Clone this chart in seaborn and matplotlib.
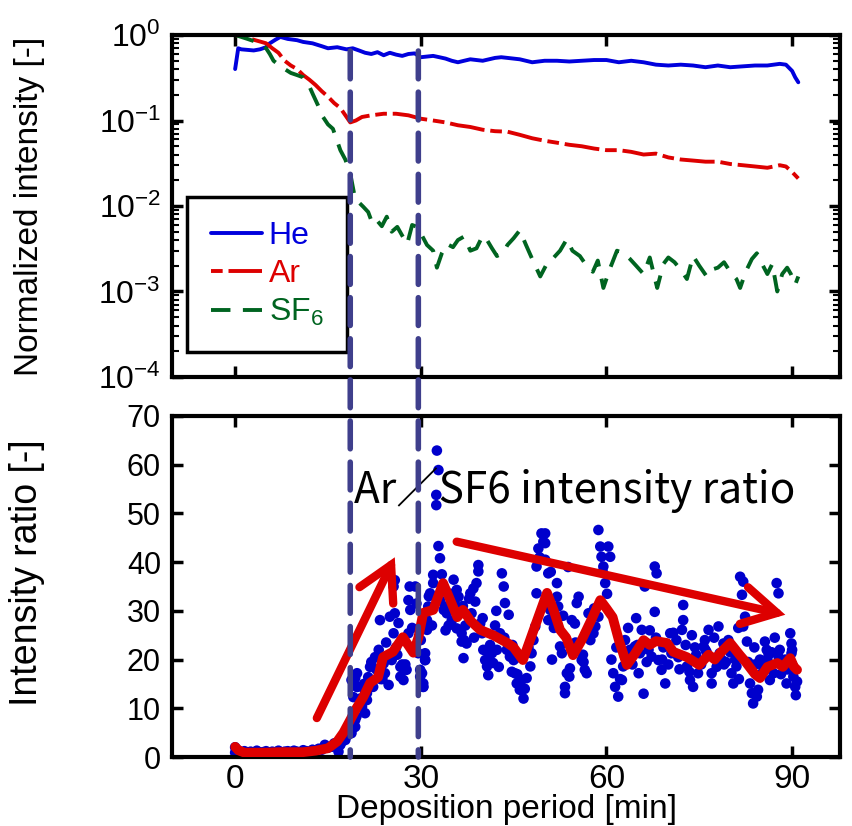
import numpy as np
import pandas as pd
import matplotlib
matplotlib.use("Agg")
import matplotlib.pyplot as plt
import seaborn as sns
from matplotlib.patches import ConnectionPatch
from matplotlib.ticker import LogLocator, NullFormatter, FixedLocator

# ---------------- data ----------------
he_x = [0, 0.5, 1, 2, 3, 4, 5, 5.6, 6.5, 7.3, 8.5, 10, 11, 12.5, 14, 15, 16.5, 18, 19, 20, 21, 22, 23, 24,
        25, 26, 27, 28, 29, 30, 31, 32, 33, 34, 35, 36, 37, 38, 40, 42, 43, 44, 46, 48, 50, 52, 54, 56, 58,
        60, 62, 64, 66, 68, 70, 72, 74, 76, 78, 80, 82, 84, 86, 88, 89, 90, 90.5, 91]
he_y = [0.40, 0.70, 0.68, 0.67, 0.66, 0.68, 0.72, 0.80, 0.88, 0.95, 0.90, 0.87, 0.83, 0.80, 0.74, 0.70,
        0.72, 0.68, 0.70, 0.66, 0.62, 0.60, 0.63, 0.58, 0.62, 0.59, 0.57, 0.60, 0.61, 0.55, 0.56, 0.57,
        0.55, 0.53, 0.50, 0.48, 0.50, 0.52, 0.50, 0.54, 0.55, 0.54, 0.52, 0.48, 0.50, 0.50, 0.49, 0.50,
        0.51, 0.51, 0.48, 0.50, 0.48, 0.45, 0.44, 0.45, 0.44, 0.42, 0.44, 0.42, 0.43, 0.44, 0.44, 0.46,
        0.45, 0.38, 0.32, 0.28]

ar_x = [0, 1, 2, 3, 4, 5, 6, 7, 8, 9, 10, 11, 12, 13, 14, 15, 16, 17, 18, 18.6, 19.5, 20.5, 22, 24, 26,
        28, 30, 32, 34, 36, 38, 40, 42, 44, 46, 48, 50, 52, 54, 56, 58, 60, 62, 64, 66, 68, 70, 72, 74,
        76, 78, 80, 82, 84, 86, 88, 89, 90, 91]
ar_y = [1.0, 0.97, 0.93, 0.88, 0.84, 0.80, 0.70, 0.62, 0.50, 0.44, 0.40, 0.34, 0.30, 0.26, 0.22, 0.19,
        0.16, 0.14, 0.11, 0.095, 0.10, 0.11, 0.115, 0.12, 0.12, 0.115, 0.105, 0.10, 0.095, 0.088, 0.084,
        0.078, 0.075, 0.074, 0.068, 0.062, 0.058, 0.055, 0.052, 0.050, 0.047, 0.045, 0.045, 0.043, 0.040,
        0.041, 0.037, 0.035, 0.034, 0.033, 0.033, 0.031, 0.030, 0.029, 0.028, 0.030, 0.029, 0.025, 0.021]

sf6_x = [0, 1, 2, 3, 4, 5, 5.6, 6.2, 7, 8, 9, 10, 11, 12, 12.6, 13.4, 14.2, 15, 15.8, 16.4, 17, 17.8,
         18.6, 19.4, 20, 20.7, 21.5, 22.2, 22.9, 23.7, 24.5, 25.3, 26.2, 27, 27.8, 28.6, 29.4, 30.2, 31,
         32, 32.6, 33.4, 34.2, 35.2, 36, 37, 38, 39, 40, 40.7, 41.5, 42.3, 43.3, 44, 45, 46, 47, 48, 49.3,
         50.5, 51.5, 52.5, 53.6, 54.5, 55.7, 56.8, 57.8, 58.6, 59.5, 60.5, 61.7, 62.8, 63.8, 64.8, 66, 67,
         68.2, 69.2, 70, 71, 72, 73, 74, 75, 76.2, 77, 78, 79, 80, 81, 81.6, 82.5, 83.5, 84.3, 85, 86,
         86.8, 87.6, 88.4, 89.2, 89.8, 90.5, 91]
sf6_y = [1.0, 0.95, 0.90, 0.85, 0.80, 0.70, 0.60, 0.50, 0.45, 0.40, 0.36, 0.34, 0.32, 0.25, 0.20, 0.15,
         0.11, 0.09, 0.08, 0.06, 0.045, 0.035, 0.024, 0.012, 0.011, 0.0098, 0.0085, 0.0062, 0.0068, 0.0058,
         0.0075, 0.0050, 0.0057, 0.0045, 0.0036, 0.0060, 0.0057, 0.0045, 0.0035, 0.0030, 0.0019, 0.0028,
         0.0036, 0.0033, 0.0040, 0.0044, 0.0030, 0.0032, 0.0045, 0.0040, 0.0032, 0.0026, 0.0028, 0.0035,
         0.0042, 0.0052, 0.0035, 0.0024, 0.0015, 0.0022, 0.0025, 0.0030, 0.0041, 0.0030, 0.0026, 0.0020,
         0.0017, 0.0023, 0.0011, 0.0018, 0.0030, 0.0028, 0.0024, 0.0020, 0.0016, 0.0025, 0.0011, 0.0021,
         0.0025, 0.0022, 0.0018, 0.0014, 0.0026, 0.0020, 0.0015, 0.0018, 0.0019, 0.0022, 0.0017, 0.0014,
         0.0011, 0.0017, 0.0024, 0.0028, 0.0022, 0.0016, 0.0021, 0.0010, 0.0016, 0.0019, 0.0016, 0.0012,
         0.0015]

ratio_x = [0, 0, 0.3, 0.6, 1, 1.5, 2, 2.5, 3, 3.5, 4, 4.5, 5, 5.5, 6, 6.5, 7, 7.5, 8, 8.5, 9, 9.5, 10,
           10.5, 11, 11.5, 12, 12.5, 13, 13.5, 14, 14.5, 15, 15.6, 16, 16.7, 17, 17.3, 17.8, 18.2, 18.8,
           19.1, 19.4, 19.4, 19.6, 19.9, 19.1, 19.7, 19.4, 20.5, 21.3, 21.0, 21.5,
           18.8, 19.7, 19.7, 20.5, 21.3, 21.0, 22.3, 23.2, 23.4, 24.0, 24.2, 24.8, 25.3, 25.6, 25.0, 25.8,
           25.6, 25.8, 26.7, 27.2, 26.7, 27.7, 28.0, 28.3, 28.0, 28.2, 29.1, 29.6, 29.9, 30.4, 30.7, 29.9,
           22.8, 23.8, 26.2, 27.5, 20.2, 22.0,
           32.6, 32.85, 32.5, 32.5, 32.85, 33.1, 32.0, 32.0, 31.5, 31.2, 31.0, 31.0, 30.7, 30.7, 30.4, 30.4,
           30.2, 33.1, 33.7, 34.2, 33.9, 35.3, 35.8, 36.1, 35.5, 35.8, 36.6, 36.6, 36.9, 37.4, 38.0, 38.5,
           38.8, 39.3, 39.3, 39.0, 38.2, 39.6, 39.9, 40.1, 40.4, 40.7, 40.9, 41.5, 41.7, 42.3, 42.8, 43.1,
           43.4, 43.6, 44.2, 43.9, 44.4, 45.0, 45.2, 45.5, 46.0, 46.6, 46.3, 47.1, 47.7, 47.9, 48.2, 48.5,
           48.7, 48.7, 49.0, 49.5, 49.8, 50.1, 50.6,
           50.1, 50.1, 50.6, 52.0, 52.0, 50.9, 50.9, 52.2, 52.5, 52.8, 54.1, 53.6, 53.3, 53.3, 54.4, 54.9,
           55.2, 55.5, 56.0, 56.5, 56.8, 57.1, 57.9, 58.2, 58.7, 58.7, 59.0, 59.2, 59.5, 59.8, 60.3, 60.6,
           61.1, 61.4, 61.9, 62.5, 62.7, 63.0, 63.0, 63.8, 64.6, 65.2, 65.4, 65.7, 66.2, 66.8, 67.3, 67.8,
           67.8, 68.1, 68.4, 68.9, 69.5, 70.3, 70.5,
           71.3, 72.2, 72.4, 72.4, 73.0, 73.5, 74.0, 74.8, 75.7, 75.9, 76.5, 77.0, 77.0, 78.1, 78.3, 78.9,
           79.7, 80.2, 80.5, 81.0, 81.6, 82.1, 81.9, 82.4, 82.1, 82.7, 83.2, 83.5, 83.7, 84.3, 84.5, 85.6,
           85.9, 86.4, 87.0, 87.5, 87.8, 87.8, 88.6, 89.1, 89.7, 89.9, 89.9, 90.2, 90.5, 90.6,
           34.5, 37.0, 41.0, 44.8, 51.2, 56.2, 60.8, 64.0, 69.0, 71.8, 74.5, 76.0, 79.0, 80.8, 84.0, 86.0,
           88.0, 90.0,
           20.8, 21.8, 22.6, 23.5, 24.4, 26.0, 26.4, 27.0, 28.6, 29.3, 30.0, 31.3, 31.8, 33.4, 34.0, 34.8,
           35.0, 36.3, 37.2, 37.8, 38.6, 40.0, 41.2, 42.0, 42.6, 43.5, 44.7, 45.8, 46.8, 47.4, 49.2, 51.0,
           51.5, 53.0, 54.0, 55.0, 56.3, 57.4, 58.0, 59.4, 60.1, 61.6, 62.2, 63.5, 64.2, 65.0, 66.5, 67.0,
           68.0, 69.2, 70.0, 70.8, 71.6, 72.8, 73.4, 74.3, 75.3, 76.2, 77.4, 78.6, 79.3, 80.0, 81.3, 82.9,
           83.9, 84.8, 85.3, 86.7, 87.2, 88.2, 88.9, 89.4, 90.0, 90.8, 36.8, 42.2, 45.6, 53.8, 64.8, 66.0,
           73.8, 77.8, 81.4, 85.0, 86.2, 89.0]
ratio_y = [2.0, 0.9, 1.5, 1.0, 0.8, 1.2, 0.9, 1.1, 0.8, 1.3, 0.9, 1.0, 1.2, 0.8, 1.1, 1.0, 1.3, 0.9, 1.1,
           1.2, 1.0, 1.3, 1.1, 0.9, 1.4, 1.2, 1.0, 1.5, 1.3, 1.7, 1.5, 2.5, 1.9, 2.1, 2.8, 1.1, 2.5, 3.2,
           3.5, 4.5, 4.9, 6.0, 6.2, 7.6, 8.3, 10.3, 12.3, 14.4, 16.2, 10.3, 11.7, 13.4, 16.4,
           15.8, 17.2, 14.4, 11.7, 13.1, 9.0, 14.4, 22.0, 28.1, 19.2, 17.2, 14.8, 19.9, 25.4, 28.8, 29.5,
           35.0, 36.3, 18.5, 15.8, 16.5, 17.9, 25.4, 30.2, 32.2, 35.0, 35.0, 21.3, 16.5, 14.4, 19.9, 17.9,
           18.0, 16.0, 21.0, 19.0, 12.0, 19.5,
           62.9, 58.9, 53.8, 51.7, 43.3, 40.8, 37.4, 35.7, 33.6, 30.9, 28.1, 26.1, 21.3, 19.9, 15.1, 14.4,
           17.2, 32.2, 30.2, 29.5, 30.9, 36.4, 34.3, 32.9, 31.2, 26.4, 25.4, 23.7, 20.3, 23.3, 33.6, 34.6,
           31.9, 39.4, 38.1, 35.7, 29.5, 27.4, 25.4, 22.0, 19.9, 18.6, 16.8, 21.3, 19.3, 22.0, 25.4, 37.7,
           35.0, 31.6, 29.2, 22.0, 20.6, 19.9, 17.2, 15.1, 13.8, 12.0, 15.8, 16.2, 18.6, 21.3, 24.0, 26.8,
           33.6, 39.1, 42.8, 45.9, 44.2, 40.5, 28.1,
           45.9, 43.9, 37.7, 35.7, 32.9, 30.2, 28.1, 30.9, 22.7, 21.3, 18.2, 17.2, 14.4, 13.1, 28.1, 27.4,
           31.6, 32.9, 19.9, 17.9, 17.2, 29.5, 25.4, 26.8, 28.8, 46.6, 43.2, 41.1, 39.1, 35.7, 43.2, 41.1,
           17.2, 14.4, 12.4, 15.8, 18.6, 20.6, 24.0, 22.0, 22.7, 17.2, 21.3, 26.1, 35.0, 22.0, 20.6, 29.8,
           39.1, 37.7, 19.9, 17.9, 15.1, 25.4, 21.3,
           24.0, 26.1, 28.1, 31.2, 18.6, 15.8, 14.4, 17.2, 22.7, 24.0, 26.1, 17.2, 15.1, 26.8, 21.3, 23.3,
           24.0, 17.2, 15.1, 18.6, 37.0, 36.0, 33.3, 28.8, 26.8, 23.7, 15.1, 13.1, 11.0, 12.4, 13.8, 23.7,
           22.0, 15.8, 17.2, 35.7, 33.6, 20.6, 18.6, 15.1, 25.4, 23.3, 21.3, 16.5, 14.4, 12.7,
           27.0, 24.0, 21.0, 23.0, 20.0, 21.0, 20.0, 22.0, 20.0, 18.0, 21.0, 22.0, 19.0, 20.0, 19.0, 20.0,
           22.0, 19.0,
           15.0, 18.5, 20.5, 16.0, 23.5, 22.5, 27.5, 19.0, 26.5, 31.5, 24.0, 33.0, 27.0, 37.5, 26.0, 33.5,
           28.0, 30.5, 27.0, 32.5, 24.5, 28.5, 23.0, 27.0, 18.5, 24.5, 17.5, 20.5, 14.0, 22.5, 41.0, 38.0,
           26.5, 29.0, 16.5, 23.5, 19.5, 24.0, 30.5, 38.0, 33.5, 22.5, 16.0, 26.5, 19.0, 23.0, 19.5, 26.0,
           24.5, 22.5, 19.0, 25.5, 20.5, 23.0, 17.5, 22.5, 19.0, 21.5, 24.5, 20.0, 19.5, 21.5, 26.5, 19.5,
           22.5, 20.0, 17.5, 21.5, 24.5, 17.0, 20.0, 18.0, 22.0, 15.5, 31.0, 30.0, 17.0, 39.0, 28.5, 13.0,
           25.0, 18.5, 16.0, 19.0, 21.0, 18.0]

avg_x = [0, 0.5, 1.5, 3, 5, 7, 9, 11, 13, 15, 16.5, 17.5, 18.6, 19.6, 20.7, 21.8, 23.1, 23.9, 25.5, 27.1,
         28.8, 29.6, 30.4, 32, 33.6, 34.5, 35.9, 36.8, 38, 39.6, 41.7, 44, 45, 46.5, 48.5, 50.4, 51.5,
         52.5, 53.5, 54.6, 56, 57.5, 59, 60, 61, 62, 63.3, 64.5, 66, 67, 68, 69.8, 70.8, 72, 73, 75, 76.5,
         77.5, 78.5, 80, 81.5, 82.5, 84, 84.8, 86, 87.6, 88.5, 89.7, 90.3, 90.8]
avg_y = [2.1, 1.4, 0.9, 0.9, 0.9, 1.0, 1.0, 1.0, 1.3, 1.8, 3.2, 5.0, 7.6, 10.0, 12.3, 15.2, 16.4, 20.5,
         21.6, 24.6, 21.4, 24.5, 29.6, 30.2, 35.7, 33.0, 28.7, 30.2, 28.0, 26.1, 25.0, 23.4, 22.5, 19.9,
         27.0, 33.7, 30.0, 26.1, 24.5, 20.9, 24.0, 28.0, 32.2, 30.5, 28.7, 24.0, 18.9, 21.0, 24.0, 23.0,
         23.8, 23.4, 21.6, 21.0, 20.5, 18.9, 21.0, 20.0, 21.5, 23.4, 21.0, 19.5, 17.0, 16.2, 18.5, 19.3,
         18.5, 20.3, 18.5, 17.9]

vline_x = [18.6, 29.6]
arrow_tails = [(13.2, 8.0), (35.8, 44.2)]
arrow_heads = [(25.8, 41.0), (88.9, 29.2)]

x_ticks = [0, 30, 60, 90]
ratio_ticks = [0, 10, 20, 30, 40, 50, 60, 70]

# ---------------- style ----------------
sns.set_theme(style="ticks")
plt.rcParams['font.family'] = ['Liberation Sans', 'DejaVu Sans']
plt.rcParams['mathtext.fontset'] = 'custom'
plt.rcParams['mathtext.rm'] = 'Liberation Sans'
plt.rcParams['mathtext.it'] = 'Liberation Sans:italic'
plt.rcParams['mathtext.bf'] = 'Liberation Sans:bold'
plt.rcParams['text.color'] = 'black'
plt.rcParams['axes.labelcolor'] = 'black'
plt.rcParams['xtick.color'] = 'black'
plt.rcParams['ytick.color'] = 'black'
narrow = ['Liberation Sans Narrow', 'Liberation Sans', 'DejaVu Sans']

BLUE = '#0000dd'
RED = '#dd0000'
GREEN = '#006420'
VCOL = '#3f3f8c'

fig = plt.figure(figsize=(8.52, 8.26), dpi=100)
ax1 = fig.add_axes([0.2019, 0.5436, 0.7841, 0.4140])
ax2 = fig.add_axes([0.2019, 0.0835, 0.7841, 0.4129])

df_he = pd.DataFrame({'x': he_x, 'y': he_y})
df_ar = pd.DataFrame({'x': ar_x, 'y': ar_y})
df_sf = pd.DataFrame({'x': sf6_x, 'y': sf6_y})
df_ratio = pd.DataFrame({'x': ratio_x, 'y': ratio_y})
df_avg = pd.DataFrame({'x': avg_x, 'y': avg_y})

ax1.set_yscale('log')
sns.lineplot(data=df_he, x='x', y='y', ax=ax1, color=BLUE, lw=2.8, label='He',
             estimator=None, sort=False)
sns.lineplot(data=df_ar, x='x', y='y', ax=ax1, color=RED, lw=2.8, label='Ar',
             linestyle=(0, (3, 1.5, 9, 1.5)), estimator=None, sort=False)
sns.lineplot(data=df_sf, x='x', y='y', ax=ax1, color=GREEN, lw=2.8, label='SF$_6$',
             linestyle=(0, (5.0, 3.2)), estimator=None, sort=False)

ax1.set_xlim(-10.2, 97.75)
ax1.set_ylim(1e-4, 1)
ax1.yaxis.set_major_locator(LogLocator(base=10, numticks=10))
ax1.yaxis.set_minor_locator(LogLocator(base=10, subs=np.arange(2, 10), numticks=20))
ax1.yaxis.set_minor_formatter(NullFormatter())
ax1.xaxis.set_major_locator(FixedLocator(x_ticks))
ax1.tick_params(labelbottom=False)
ax1.set_xlabel('')
ax1.set_ylabel('Normalized intensity [-]', fontsize=24, family=narrow, color='black')
ax1.yaxis.set_label_coords(-0.19, 0.5)

leg = ax1.legend(loc='upper left', bbox_to_anchor=(0.0225, 0.526), borderaxespad=0,
                 fontsize=23, handlelength=1.6, handletextpad=0.2, labelspacing=0.25,
                 borderpad=0.75, fancybox=False, framealpha=1, edgecolor='black')
leg.get_frame().set_linewidth(2.5)
for txt, col in zip(leg.get_texts(), [BLUE, RED, GREEN]):
    txt.set_color(col)

sns.scatterplot(data=df_ratio, x='x', y='y', ax=ax2, color='#0000cc', s=58, edgecolor='none',
                zorder=2)
sns.lineplot(data=df_avg, x='x', y='y', ax=ax2, color=RED, lw=7, estimator=None, sort=False,
             zorder=3, solid_joinstyle='round', solid_capstyle='round')

for (tx, ty), (hx, hy) in zip(arrow_tails, arrow_heads):
    ax2.annotate('', xy=(hx, hy), xytext=(tx, ty),
                 arrowprops=dict(arrowstyle='->,head_length=0.9,head_width=0.5', lw=6,
                                 color=RED, shrinkA=0, shrinkB=0, mutation_scale=27,
                                 joinstyle='miter'),
                 zorder=4)

ax2.text(54.8, 54.8, 'Ar／SF6 intensity ratio', ha='center', va='center', fontsize=30.5,
         family=['Noto Sans CJK JP', 'DejaVu Sans'], color='black')

ax2.set_xlim(-10.2, 97.75)
ax2.set_ylim(0, 70)
ax2.xaxis.set_major_locator(FixedLocator(x_ticks))
ax2.yaxis.set_major_locator(FixedLocator(ratio_ticks))
ax2.set_xlabel('Deposition period [min]', fontsize=24, family=narrow, labelpad=-1, color='black')
ax2.set_ylabel('Intensity ratio [-]', fontsize=27, family=narrow, color='black')
ax2.yaxis.set_label_coords(-0.19, 0.54)

for ax, ls in ((ax1, 23), (ax2, 22)):
    for sp in ax.spines.values():
        sp.set_linewidth(3)
        sp.set_color('black')
    ax.tick_params(which='major', direction='in', length=8, width=2.5, top=True, right=True,
                   labelsize=ls, colors='black', pad=8)
    ax.tick_params(which='minor', direction='in', length=5, width=1.5, left=True, right=True)
    ax.grid(False)
ax2.tick_params(axis='x', pad=5)
for lab in ax2.get_xticklabels():
    lab.set_family(narrow)
    lab.set_fontsize(24)

for vx in vline_x:
    con = ConnectionPatch(xyA=(vx, 0.65), coordsA=ax1.transData, xyB=(vx, 0), coordsB=ax2.transData,
                          color=VCOL, lw=4, linestyle=(0, (5.0, 2.4)))
    fig.add_artist(con)

fig.savefig('out.png', dpi=100)
